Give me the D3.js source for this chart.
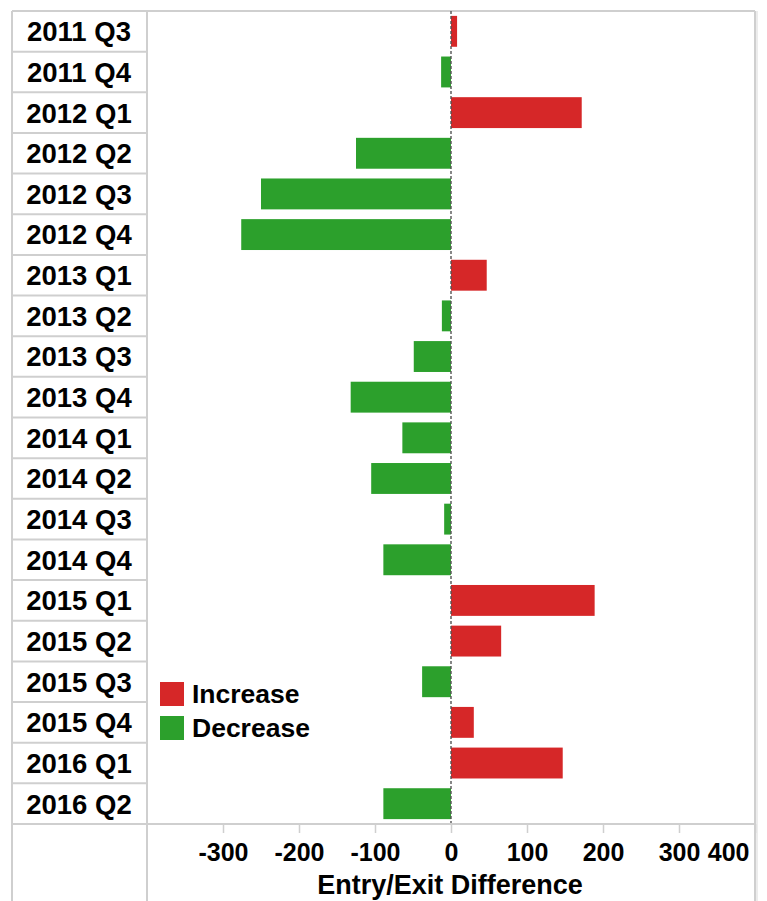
<!DOCTYPE html>
<html>
    <head>
        <meta http-equiv="Content-Type" content="text/html; charset=UTF-8">
        <script src="https://d3js.org/d3.v7.min.js"></script>
        <style>
            html, body {
                margin: 0;
                padding: 0;
                background-color: white;
            }

            svg text {
                font-family: Arial, 'Liberation Sans', sans-serif;
                font-weight: bold;
                fill: black;
            }
        </style>
        <title>Entry/Exit Difference</title>
    </head>
    <body>
        <script>
            var ww = 767;
            var hh = 901;

            // quarters, top to bottom
            var quarters = ['2011 Q3', '2011 Q4', '2012 Q1', '2012 Q2', '2012 Q3', '2012 Q4',
                '2013 Q1', '2013 Q2', '2013 Q3', '2013 Q4', '2014 Q1', '2014 Q2', '2014 Q3',
                '2014 Q4', '2015 Q1', '2015 Q2', '2015 Q3', '2015 Q4', '2016 Q1', '2016 Q2'];
            // entry minus exit
            var diffs = [8, -13, 172, -125, -250, -276, 47, -12, -49, -132, -64, -105, -9,
                -89, 189, 66, -38, 30, 147, -89];
            var tickVals = [-300, -200, -100, 0, 100, 200, 300, 400];
            var legendNames = ['Increase', 'Decrease'];
            var legendColors = ['#d62728', '#2ca02c'];

            var left = 12, labW = 135, right = 755, topY = 11, plotBottom = 824;
            var gridColor = '#cfcfcf';

            var svg = d3.select('body').append('svg').attr('width', ww).attr('height', hh);

            var x = d3.scaleLinear().domain([-400, 400]).range([left + labW, right]);
            var rows = d3.scaleBand().domain(quarters).range([topY, plotBottom]);
            var y = d3.scaleBand().domain(quarters).range([topY, plotBottom])
                .paddingInner(0.24).paddingOuter(0.12);

            // label column cells
            svg.selectAll('line.rowsep').data(quarters).enter().append('line')
                .attr('class', 'rowsep')
                .attr('x1', left).attr('x2', left + labW)
                .attr('y1', function(d) { return rows(d) + rows.step(); })
                .attr('y2', function(d) { return rows(d) + rows.step(); })
                .style('stroke', gridColor).style('stroke-width', 2);

            svg.selectAll('text.lab').data(quarters).enter().append('text')
                .attr('class', 'lab')
                .attr('x', left + labW / 2 - 0.5)
                .attr('y', function(d) { return rows(d) + rows.step() / 2; })
                .attr('dy', '0.36em')
                .attr('text-anchor', 'middle')
                .style('font-size', '27.5px')
                .text(function(d) { return d; });

            // frame
            svg.append('line').attr('x1', left).attr('x2', right).attr('y1', topY).attr('y2', topY)
                .style('stroke', gridColor).style('stroke-width', 2);
            svg.append('line').attr('x1', left).attr('x2', left).attr('y1', topY).attr('y2', hh)
                .style('stroke', gridColor).style('stroke-width', 2);
            svg.append('line').attr('x1', left + labW).attr('x2', left + labW).attr('y1', topY).attr('y2', hh)
                .style('stroke', gridColor).style('stroke-width', 2);
            svg.append('line').attr('x1', right).attr('x2', right).attr('y1', topY).attr('y2', hh)
                .style('stroke', gridColor).style('stroke-width', 2);
            svg.append('line').attr('x1', right + 2).attr('x2', right + 2).attr('y1', topY).attr('y2', hh)
                .style('stroke', '#ececec').style('stroke-width', 2);

            // bars
            svg.selectAll('rect.bar').data(quarters).enter().append('rect')
                .attr('class', 'bar')
                .attr('x', function(d, i) { return x(Math.min(0, diffs[i])); })
                .attr('y', function(d) { return y(d); })
                .attr('width', function(d, i) { return Math.abs(x(diffs[i]) - x(0)); })
                .attr('height', y.bandwidth())
                .style('fill', function(d, i) { return diffs[i] >= 0 ? legendColors[0] : legendColors[1]; });

            // zero line
            svg.append('line').attr('x1', x(0)).attr('x2', x(0)).attr('y1', topY).attr('y2', plotBottom)
                .style('stroke', '#555').style('stroke-width', 1.4).style('stroke-dasharray', '3,2');

            // x axis
            var axis = svg.append('g').attr('transform', 'translate(0,' + plotBottom + ')')
                .call(d3.axisBottom(x).tickValues(tickVals).tickSize(9).tickPadding(10)
                    .tickFormat(function(d) { return String(d); }));
            axis.select('.domain').remove();
            axis.selectAll('.tick line').style('stroke', gridColor).style('stroke-width', 1.5);
            axis.selectAll('.tick text').style('font-size', '25px').style('fill', 'black')
                .style('font-family', "Arial, 'Liberation Sans', sans-serif").style('font-weight', 'bold');
            axis.selectAll('.tick').filter(function(d) { return d === 400; }).select('text')
                .attr('text-anchor', 'end').attr('x', -6);
            svg.append('line').attr('x1', left).attr('x2', right).attr('y1', plotBottom).attr('y2', plotBottom)
                .style('stroke', gridColor).style('stroke-width', 2);

            svg.append('text').attr('x', x(0) - 1).attr('y', 894)
                .attr('text-anchor', 'middle').style('font-size', '27px')
                .text('Entry/Exit Difference');

            // legend
            var legend = svg.selectAll('g.leg').data(legendNames).enter().append('g')
                .attr('class', 'leg')
                .attr('transform', function(d, i) { return 'translate(160,' + (682 + i * 34) + ')'; });
            legend.append('rect').attr('width', 24).attr('height', 24)
                .style('fill', function(d, i) { return legendColors[i]; });
            legend.append('text').attr('x', 32).attr('y', 11).attr('dy', '0.36em')
                .style('font-size', '26.5px').text(function(d) { return d; });
        </script>
    </body>
</html>
